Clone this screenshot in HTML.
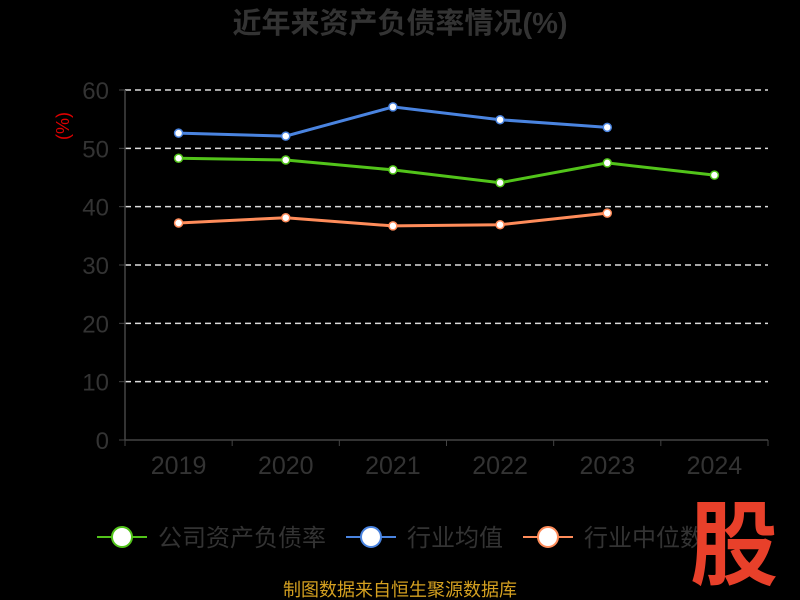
<!DOCTYPE html>
<html><head><meta charset="utf-8"><style>
body{margin:0;background:#000;}
svg{display:block;font-family:"Liberation Sans","Noto Sans CJK SC",sans-serif;}
</style></head><body>
<svg id="c" width="800" height="600">
<text x="400" y="33" text-anchor="middle" font-size="29" font-weight="bold" fill="#333">近年来资产负债率情况(%)</text>
<text transform="translate(69,126) rotate(-90)" text-anchor="middle" font-size="18" fill="#d00">(%)</text>
<g id="grid"></g><g id="axes"></g><g id="series"></g>
<g font-size="24" fill="#333">
<g><line x1="97" y1="537" x2="147" y2="537" stroke="#52c41a" stroke-width="2"/><circle cx="122" cy="537" r="10" fill="#fff" stroke="#52c41a" stroke-width="2"/><text x="158" y="546">公司资产负债率</text></g>
<g><line x1="346" y1="537" x2="396" y2="537" stroke="#4a84e0" stroke-width="2"/><circle cx="371" cy="537" r="10" fill="#fff" stroke="#4a84e0" stroke-width="2"/><text x="407" y="546">行业均值</text></g>
<g><line x1="523" y1="537" x2="573" y2="537" stroke="#ff8c5a" stroke-width="2"/><circle cx="548" cy="537" r="10" fill="#fff" stroke="#ff8c5a" stroke-width="2"/><text x="584" y="546">行业中位数</text></g>
</g>
<text x="734" y="577" text-anchor="middle" font-size="88" font-weight="bold" fill="#e8402a" transform="translate(734,0) scale(1,1.05) translate(-734,-27)">股</text>
<text x="400" y="596" text-anchor="middle" font-size="18" fill="#d4a020">制图数据来自恒生聚源数据库</text>
</svg>
<script>
const categories=["2019","2020","2021","2022","2023","2024"];
const yTicks=[0,10,20,30,40,50,60];
const companyVals=[48.3,48.0,46.3,44.1,47.5,45.4];
const avgVals=[52.6,52.1,57.1,54.9,53.6];
const medianVals=[37.2,38.1,36.7,36.9,38.9];
const NS="http://www.w3.org/2000/svg";
const x0=125,x1=768,yb=440,yt=90,ymax=60;
const step=(x1-x0)/categories.length;
const xs=i=>x0+step*(i+0.5);
const ys=v=>yb-(v/ymax)*(yb-yt);
function mk(t,a,p){const e=document.createElementNS(NS,t);for(const k in a)e.setAttribute(k,a[k]);p.appendChild(e);return e;}
const grid=document.getElementById('grid'),axes=document.getElementById('axes'),ser=document.getElementById('series');
yTicks.forEach(v=>{
  if(v>0){const l=mk('line',{x1:x0,x2:x1,y1:ys(v),y2:ys(v),stroke:'#ddd','stroke-dasharray':'6,4','stroke-width':1.5},grid);
  
  }
  mk('line',{x1:x0-6,x2:x0,y1:ys(v),y2:ys(v),stroke:'#444'},axes);
  const t=mk('text',{x:x0-16,y:ys(v)+9,'text-anchor':'end','font-size':24,fill:'#333'},axes);t.textContent=v;
  
  
});
mk('line',{x1:x0,x2:x0,y1:yt,y2:yb,stroke:'#444','stroke-width':1.5},axes);
mk('line',{x1:x0,x2:x1,y1:yb,y2:yb,stroke:'#444','stroke-width':1.5},axes);
for(let i=0;i<=categories.length;i++)mk('line',{x1:x0+step*i,x2:x0+step*i,y1:yb,y2:yb+6,stroke:'#444'},axes);
categories.forEach((c,i)=>{const t=mk('text',{x:xs(i),y:474,'text-anchor':'middle','font-size':25,fill:'#333'},axes);t.textContent=c;
  
  });
function series(vals,color,name){
  const g=mk('g',{},ser);
  
  
  mk('polyline',{points:vals.map((v,i)=>xs(i)+','+ys(v)).join(' '),fill:'none',stroke:color,'stroke-width':3},g);
  vals.forEach((v,i)=>{const c=mk('circle',{cx:xs(i),cy:ys(v),r:4,fill:'#fff',stroke:color,'stroke-width':1.5},g);
    
    });
}
series(medianVals,'#ff8c5a','industry-median-line');
series(avgVals,'#4a84e0','industry-avg-line');
series(companyVals,'#52c41a','company-line');
</script>
</body></html>
